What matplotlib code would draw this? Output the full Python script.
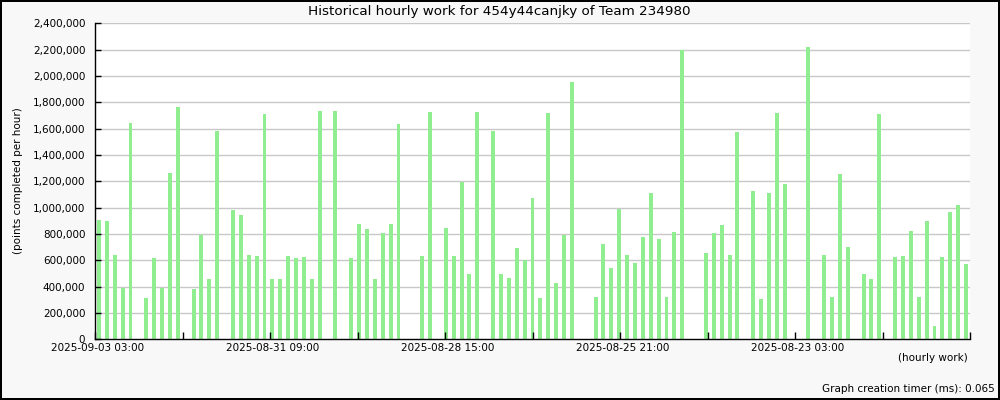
import matplotlib
matplotlib.use("Agg")
import matplotlib.pyplot as plt
from matplotlib.ticker import FuncFormatter
from matplotlib.transforms import ScaledTranslation
import numpy as np

title = "Historical hourly work for 454y44canjky of Team 234980"
y_label = "(points completed per hour)"
x_label = "(hourly work)"
timer_text = "Graph creation timer (ms): 0.065"

# points per hour, one value per hourly slot (None = no work)
values = [
    903000, 895000, 637000, 387000, 1641000, None, 311000, 614000, 387000, 1259000,
    1760000, None, 379000, 789000, 455000, 1585000, None, 978000, 940000, 637000,
    630000, 1714000, 455000, 455000, 630000, 614000, 622000, 455000, 1730000, None,
    1730000, None, 614000, 872000, 834000, 455000, 804000, 872000, 1638000, None,
    None, 630000, 1722000, None, 842000, 630000, 1191000, 493000, 1722000, None,
    1581000, 492000, 462000, 689000, 605000, 1074000, 310000, 1717000, 424000, 794000,
    1952000, None, None, 318000, 726000, 537000, 991000, 636000, 582000, 779000,
    1112000, 764000, 318000, 817000, 2194000, None, None, 651000, 810000, 870000,
    636000, 1574000, None, 1127000, 303000, 1112000, 1717000, 1180000, None, None,
    2217000, None, 643000, 318000, 1256000, 704000, None, 493000, 455000, 1714000,
    None, 622000, 630000, 819000, 319000, 895000, 99000, 622000, 963000, 1016000,
    569000,
]

tick_labels = ["2025-09-03 03:00", "2025-08-31 09:00", "2025-08-28 15:00",
               "2025-08-25 21:00", "2025-08-23 03:00"]

y_ticks = list(range(0, 2400001, 200000))

n = len(values)
xs = [i for i, v in enumerate(values) if v is not None]
hs = [v for v in values if v is not None]

fig = plt.figure(figsize=(10, 4), dpi=100)
fig.patch.set_facecolor("#f8f8f8")
fig.patch.set_edgecolor("black")
fig.patch.set_linewidth(1.5)

ax = fig.add_axes([0.095, 0.152, 0.875, 0.790])
ax.set_facecolor("white")
for yv in y_ticks[1:]:
    ax.axhline(yv, color="#c8c8c8", linewidth=1, zorder=0.5)
ax.bar(xs, hs, width=0.5, color="#90ee90", zorder=1.5)

ax.set_xlim(-0.5, n - 0.5)
ax.set_ylim(0, 2400000)

ax.set_yticks(y_ticks)
ax.yaxis.set_major_formatter(FuncFormatter(lambda v, p: f"{int(v):,}"))

span = n
major = [-0.5 + span * k / 10 for k in range(0, 10, 2)]
minor = [-0.5 + span * k / 10 for k in [1, 3, 5, 7, 9, 10]]
ax.set_xticks(major)
ax.set_xticklabels(tick_labels)
ax.set_xticks(minor, minor=True)

ax.tick_params(axis="x", which="both", direction="in", length=5, width=1,
               color="black", labelsize=7.5, pad=3)
ax.tick_params(axis="y", direction="in", length=4, width=1, color="black",
               labelsize=7.5, pad=7)
for lab in ax.get_xticklabels():
    lab.set_transform(lab.get_transform() + ScaledTranslation(3 / 100, 0, fig.dpi_scale_trans))

for s in ["top", "right"]:
    ax.spines[s].set_visible(False)
for s in ["left", "bottom"]:
    ax.spines[s].set_color("black")
    ax.spines[s].set_linewidth(1)

fig.text(0.499, 0.972, title, ha="center", va="center", fontsize=9.7)
fig.text(0.018, 0.548, y_label, ha="center", va="center", rotation=90, fontsize=7.5)
fig.text(0.968, 0.105, x_label, ha="right", va="center", fontsize=7.5)
fig.text(0.995, 0.028, timer_text, ha="right", va="center", fontsize=7.5)

fig.savefig("out.png", dpi=100, facecolor=fig.get_facecolor(), edgecolor=fig.get_edgecolor())
